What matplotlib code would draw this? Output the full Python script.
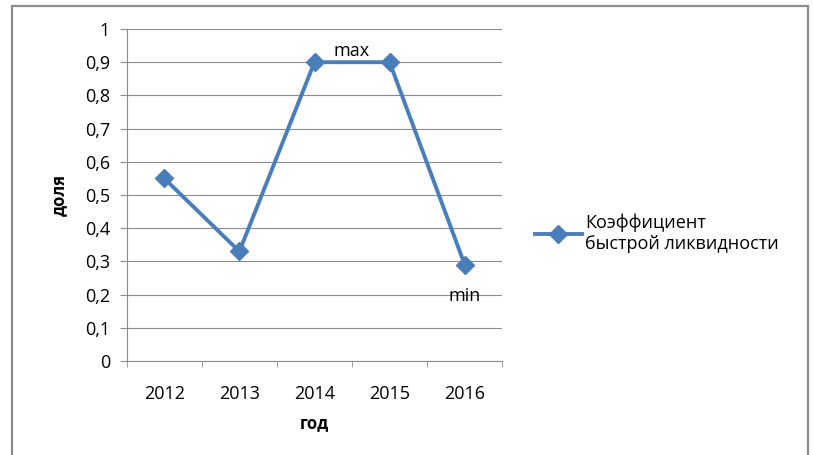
import matplotlib.pyplot as plt
from matplotlib.patches import Rectangle

years = ['2012', '2013', '2014', '2015', '2016']
quick_ratio = [0.55, 0.33, 0.90, 0.90, 0.29]
y_ticks = [0, 0.1, 0.2, 0.3, 0.4, 0.5, 0.6, 0.7, 0.8, 0.9, 1.0]
y_tick_labels = ['0', '0,1', '0,2', '0,3', '0,4', '0,5', '0,6', '0,7', '0,8', '0,9', '1']

plt.rcParams['font.family'] = ['Open Sans', 'DejaVu Sans']

fig = plt.figure(figsize=(8.13, 4.55), dpi=100)
# рамка вокруг диаграммы
fig.patches.append(Rectangle((12 / 813, -0.05), 796 / 813, 1.05 - 6 / 455,
                             transform=fig.transFigure, fill=False,
                             edgecolor='#8c8c8c', linewidth=1.6))

ax = fig.add_axes([126.7 / 813, 94 / 455, 375.6 / 813, 332 / 455])
x = list(range(len(years)))
ax.plot(x, quick_ratio, color='#4a7ebb', linewidth=2.8, marker='D',
        markersize=9, label='Коэффициент\nбыстрой ликвидности', zorder=3)

ax.set_xlim(-0.5, len(years) - 0.5)
ax.set_ylim(0, 1)
ax.set_yticks(y_ticks)
ax.set_yticklabels(y_tick_labels)
ax.yaxis.grid(True, color='#8c8c8c', linewidth=0.8)
ax.set_axisbelow(True)

# подписи категорий по центру, засечки между категориями
ax.set_xticks(x)
ax.set_xticklabels(years)
ax.set_xticks([i - 0.5 for i in range(len(years) + 1)], minor=True)
ax.tick_params(axis='x', which='major', length=0, pad=17, labelsize=13)
ax.tick_params(axis='x', which='minor', length=4, direction='out', color='#8c8c8c')
ax.tick_params(axis='y', length=5, direction='out', color='#8c8c8c', labelsize=13, pad=7)

for side in ['top', 'right']:
    ax.spines[side].set_visible(False)
for side in ['left', 'bottom']:
    ax.spines[side].set_color('#8c8c8c')
    ax.spines[side].set_linewidth(0.8)

ax.set_xlabel('год', fontsize=12, fontweight='bold', labelpad=8)
ax.set_ylabel('доля', fontsize=12, fontweight='bold', labelpad=12)

ax.text(2.5, 0.935, 'max', ha='center', va='center', fontsize=13)
ax.text(4, 0.195, 'min', ha='center', va='center', fontsize=13)

ax.legend(loc='center left', bbox_to_anchor=(1.043, 0.385), frameon=False,
          fontsize=13, handlelength=2.6, handletextpad=0.2, labelspacing=0.3)

fig.savefig('out.png', dpi=100)
